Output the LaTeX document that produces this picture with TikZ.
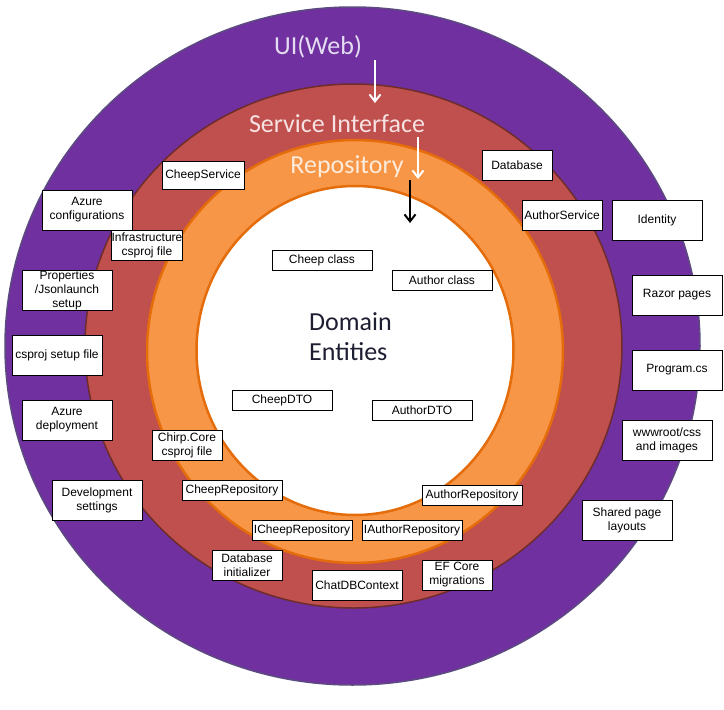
\documentclass[tikz,border=0pt]{standalone}
\usepackage{fontspec}
\setmainfont{Liberation Sans}
\newfontfamily\calib{Carlito}
\usetikzlibrary{arrows.meta}
\definecolor{ringpurple}{HTML}{7030A0}
\definecolor{ringred}{HTML}{C0504D}
\definecolor{ringorange}{HTML}{F79646}
\definecolor{edgeorange}{HTML}{E46C0A}
\definecolor{edgered}{HTML}{6E2C2A}
\definecolor{edgepurple}{HTML}{5C4A80}
\definecolor{uitext}{HTML}{E4DDF2}
\definecolor{sitext}{HTML}{F6E2E2}
\definecolor{repotext}{HTML}{FDEBDC}
\definecolor{domtext}{HTML}{1E1E32}
\tikzset{
  box/.style={draw=black, fill=white, line width=0.9pt, inner sep=0pt, align=center,
    font=\fontsize{12}{14}\selectfont},
  ringlabel/.style={font=\calib\fontsize{26}{28}\selectfont, inner sep=0pt},
  flowarrow/.style={line width=2pt, -{Straight Barb[length=7pt,width=11pt]}},
}
\begin{document}
\begin{tikzpicture}[x=1pt,y=-1pt]
\useasboundingbox (0,0) rectangle (724,710);
\fill[white] (0,0) rectangle (724,710);
% rings
\draw[fill=ringpurple, draw=edgepurple, line width=1.5pt] (352.5,346) ellipse [x radius=347.5, y radius=339];
\draw[fill=ringred, draw=edgered, line width=1.5pt] (353.5,346) ellipse [x radius=268.5, y radius=262];
\draw[fill=ringorange, draw=edgeorange, line width=2.5pt] (355,351.5) ellipse [x radius=208, y radius=211.5];
\draw[fill=white, draw=edgeorange, line width=2.5pt] (355,350.5) ellipse [x radius=158.5, y radius=164.5];
% ring labels
\node[ringlabel, text=uitext] (ui) at (318,47) {UI(Web)};
\node[ringlabel, text=sitext] (si) at (337,124) {Service Interface};
\node[ringlabel, text=repotext] (repo) at (347,167) {Repository};
\node[anchor=west, align=left, text=domtext, font=\calib\fontsize{26}{30}\selectfont, inner sep=0pt] (dom) at (309,337) {Domain\\Entities};
% arrows
\coordinate (a1s) at (375,60); \coordinate (a1e) at (375,103);
\coordinate (a2s) at (418,137); \coordinate (a2e) at (418,179);
\coordinate (a3s) at (410,180); \coordinate (a3e) at (410,223);
\draw[flowarrow, white] (a1s) -- (a1e);
\draw[flowarrow, white] (a2s) -- (a2e);
\draw[flowarrow, black] (a3s) -- (a3e);
% boxes
\node[box, minimum width=82pt, minimum height=28pt] (cheepservice) at (203,175) {CheepService};
\node[box, minimum width=70pt, minimum height=30pt] (database) at (517,165) {Database};
\node[box, minimum width=80pt, minimum height=30pt] (authorservice) at (562,215) {AuthorService};
\node[box, minimum width=90pt, minimum height=40pt] (identity) at (657,220) {Identity};
\node[box, minimum width=90pt, minimum height=40pt] (azureconf) at (87,210) {Azure\\configurations};
\node[box, minimum width=70pt, minimum height=30pt] (infra) at (147,245) {Infrastructure\\csproj file};
\node[box, minimum width=100pt, minimum height=20pt] (cheepclass) at (322,260) {Cheep class};
\node[box, minimum width=100pt, minimum height=20pt] (authorclass) at (442,280) {Author class};
\node[box, minimum width=90pt, minimum height=40pt] (props) at (67,290) {Properties\\/Jsonlaunch\\setup};
\node[box, minimum width=90pt, minimum height=40pt] (razor) at (677,295) {Razor pages};
\node[box, minimum width=90pt, minimum height=40pt] (csprojsetup) at (57,355) {csproj setup file};
\node[box, minimum width=90pt, minimum height=40pt] (program) at (677,370) {Program.cs};
\node[box, minimum width=100pt, minimum height=20pt] (cheepdto) at (282,400) {CheepDTO};
\node[box, minimum width=100pt, minimum height=20pt] (authordto) at (422,410) {AuthorDTO};
\node[box, minimum width=90pt, minimum height=40pt] (azuredeploy) at (67,420) {Azure\\deployment};
\node[box, minimum width=90pt, minimum height=40pt] (wwwroot) at (667,440) {wwwroot/css\\and images};
\node[box, minimum width=70pt, minimum height=30pt] (chirpcore) at (187,445) {Chirp.Core\\csproj file};
\node[box, minimum width=90pt, minimum height=40pt] (devsettings) at (97,500) {Development\\settings};
\node[box, minimum width=100pt, minimum height=20pt] (cheeprepo) at (232,490) {CheepRepository};
\node[box, minimum width=100pt, minimum height=20pt] (authorrepo) at (472,495) {AuthorRepository};
\node[box, minimum width=90pt, minimum height=40pt] (shared) at (627,520) {Shared page\\layouts};
\node[box, minimum width=100pt, minimum height=20pt] (icheeprepo) at (302,530) {ICheepRepository};
\node[box, minimum width=100pt, minimum height=20pt] (iauthorrepo) at (412,530) {IAuthorRepository};
\node[box, minimum width=70pt, minimum height=30pt] (dbinit) at (247,565) {Database\\initializer};
\node[box, minimum width=90pt, minimum height=30pt] (chatdb) at (357,585) {ChatDBContext};
\node[box, minimum width=70pt, minimum height=30pt] (efcore) at (457,575) {EF Core\\migrations};
\end{tikzpicture}
\end{document}
